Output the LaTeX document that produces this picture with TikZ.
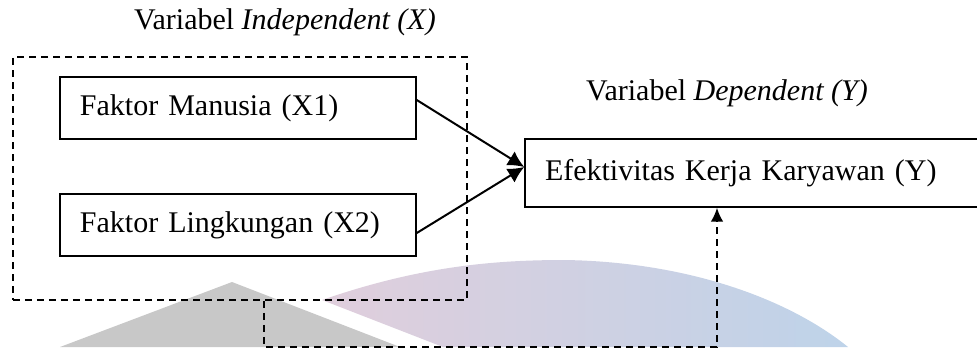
\documentclass[tikz,border=0pt]{standalone}
\usepackage{fontspec}
\setmainfont{Liberation Serif}
\usetikzlibrary{arrows.meta, positioning, calc}

\definecolor{markgray}{RGB}{200,200,200}
\definecolor{markpink}{RGB}{224,206,220}
\definecolor{markblue}{RGB}{190,211,233}

\begin{document}
\begin{tikzpicture} [x=0.4pt, y=-0.4pt, align=left, font=\fontsize{12}{14}\selectfont,
    varbox/.style={draw, rectangle, line width=0.6pt, inner xsep=8pt, inner ysep=0pt},
    link/.style={line width=0.8pt, -{Latex[length=6.5pt, width=6.5pt]}},
    dashlink/.style={line width=0.8pt, dash pattern=on 2.8pt off 2pt, -{Latex[length=5.5pt, width=5pt]}}]
    \useasboundingbox (0,0) rectangle (977,347);
    
    % Draw the watermark behind everything
    \fill[markgray] (60,347) -- (232,282) -- (400,347) -- cycle;
    \shade[left color=markpink, right color=markblue, shading angle=90]
        (322,300) .. controls (420,266) and (495,260) .. (565,260)
        .. controls (690,262) and (790,300) .. (848,347) -- (443,347) -- cycle;
    
    % Draw the independent group
    \node[draw, rectangle, line width=0.6pt, dash pattern=on 2.8pt off 2pt,
          minimum width=181.6pt, minimum height=97.2pt] (indep) at (240,178.5) {};
    \node (indeptitle) at (285,22) {Variabel \textit{Independent (X)}};
    
    \node[varbox, text width=126.4pt, minimum height=24.8pt] (x1) at (238,108) {Faktor Manusia (X1)};
    \node[varbox, text width=126.4pt, minimum height=24.8pt] (x2) at (238,225) {Faktor Lingkungan (X2)};
    
    % Draw the dependent block (runs past the right edge)
    \node (deptitle) at (727,93) {Variabel \textit{Dependent (Y)}};
    \node[varbox, text width=166pt, minimum height=27.2pt] (y) at (752.5,173) {Efektivitas Kerja Karyawan (Y)};
    
    % Draw the arrows
    \draw[link] ([yshift=3.2pt]x1.east) -- ([yshift=2.4pt]y.west);
    \draw[link] ([yshift=-3.2pt]x2.east) -- ([yshift=2.4pt]y.west);
    
    % Draw the dashed feedback
    \draw[dashlink] ([xshift=9.6pt]indep.south) -- ++(0,46) coordinate (bend)
        -| ([xshift=-14.2pt]y.south);
\end{tikzpicture}
\end{document}
